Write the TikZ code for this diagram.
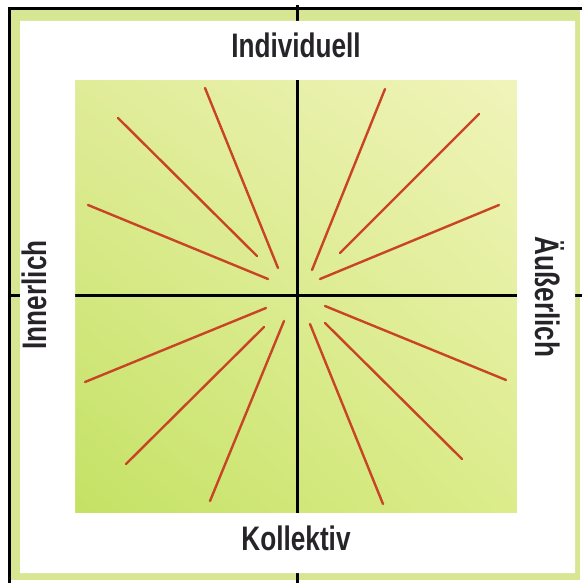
\documentclass[tikz,border=0pt]{standalone}
\usepackage{fontspec}
\newfontfamily\quadfont[FakeStretch=0.77]{Liberation Sans}
\usetikzlibrary{positioning, shadings}
\definecolor{framegreen}{RGB}{214,230,146}
\definecolor{raycolor}{RGB}{200,68,36}
\definecolor{labelgray}{RGB}{38,36,40}
\definecolor{fieldtl}{RGB}{224,236,152}
\definecolor{fieldtr}{RGB}{240,244,186}
\definecolor{fieldbl}{RGB}{196,226,100}
\definecolor{fieldbr}{RGB}{220,236,140}

\begin{document}
\begin{tikzpicture}[x=1pt, y=-1pt,
        axis/.style={line width=3pt, black},
        ray/.style={line width=2.4pt, raycolor, line cap=round},
        quadlabel/.style={font=\quadfont\bfseries\fontsize{34}{36}\selectfont,
                          text=labelgray, inner sep=0pt,
                          text height=24pt, text depth=0pt},
    ]
    \useasboundingbox (0,0) rectangle (582,583);
    \fill[white] (0,0) rectangle (582,583);

    % frame, white band and field
    \fill[framegreen] (9,9) rectangle (580,580);
    \fill[white] (20,21) rectangle (575,573);
    \shade[upper left=fieldtl, upper right=fieldtr,
           lower left=fieldbl, lower right=fieldbr] (75,80) rectangle (517,513);

    % axes, hidden again in the white band
    \coordinate (c) at (297,295);
    \draw[axis] (c |- 0,5) -- (c |- 0,583);
    \draw[axis] (c -| 9,0) -- (c -| 582,0);
    \fill[white, even odd rule] (20,21) rectangle (575,573) (75,80) rectangle (517,513);
    \draw[black, line width=3pt] (9,583) -- (9,9) -- (582,9);

    % rays
    \foreach \xa/\ya/\xb/\yb in {205/88/278/268, 118/118/257/256, 88/205/268/279,
                                385/89/312/270, 479/114/340/253, 499/205/320/279,
                                85/382/266/308, 126/464/264/327, 210/501/284/321,
                                506/380/325/306, 462/459/325/323, 383/504/310/324}
        \draw[ray] (\xa,\ya) -- (\xb,\yb);

    \node[quadlabel] (indiv) at (296,46) {Individuell};
    \node[quadlabel] (koll) at (296,538) {Kollektiv};
    \node[quadlabel, rotate=90] (inner) at (34,295) {Innerlich};
    \node[quadlabel, rotate=-90] (aeusser) at (547,297) {Äußerlich};
\end{tikzpicture}
\end{document}
